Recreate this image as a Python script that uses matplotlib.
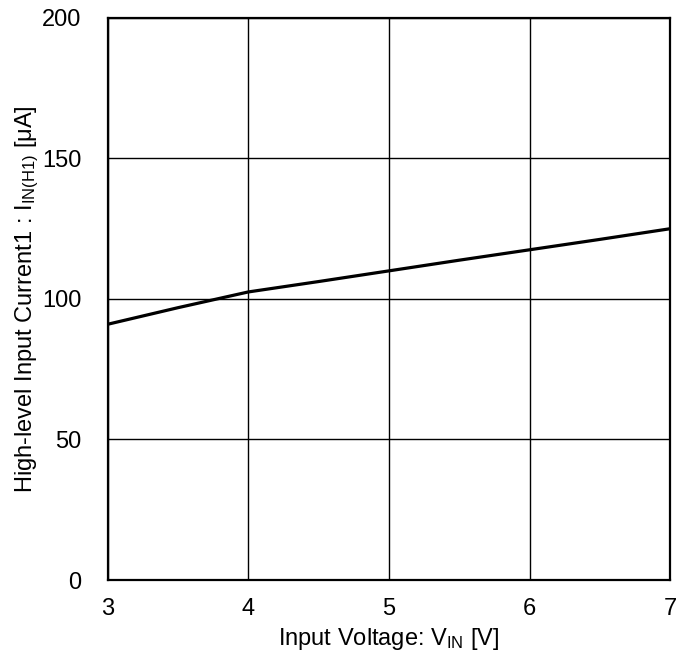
import matplotlib
matplotlib.use("Agg")
import matplotlib.pyplot as plt

plt.rcParams["font.family"] = ["Liberation Sans", "DejaVu Sans"]
plt.rcParams["mathtext.fontset"] = "custom"
plt.rcParams["mathtext.rm"] = "Liberation Sans"
plt.rcParams["mathtext.it"] = "Liberation Sans:italic"

# data
vin = [3.0, 3.5, 4.0, 4.5, 5.0, 5.5, 6.0, 6.5, 7.0]
iin = [91.0, 96.9, 102.5, 106.2, 110.0, 113.8, 117.5, 121.2, 125.0]

xticks = [3, 4, 5, 6, 7]
yticks = [0, 50, 100, 150, 200]

fig = plt.figure(figsize=(6.86, 6.64), dpi=100)
ax = fig.add_axes([0.157, 0.1265, 0.82, 0.8465])

ax.plot(vin, iin, color="black", linewidth=2.3)

ax.set_xlim(3, 7)
ax.set_ylim(0, 200)
ax.set_xticks(xticks)
ax.set_yticks(yticks)
ax.grid(True, color="black", linewidth=1.0)
ax.tick_params(length=0, labelsize=17)
ax.tick_params(axis="x", pad=13)
ax.tick_params(axis="y", pad=19)
for s in ax.spines.values():
    s.set_linewidth(1.6)

ax.set_xlabel(r"Input Voltage: V$_{\mathrm{IN}}$ [V]", fontsize=17, labelpad=4)
ax.set_ylabel(r"High-level Input Current1 : I$_{\mathrm{IN(H1)}}$ [μA]", fontsize=17, labelpad=1)

fig.savefig("out.png", dpi=100)
